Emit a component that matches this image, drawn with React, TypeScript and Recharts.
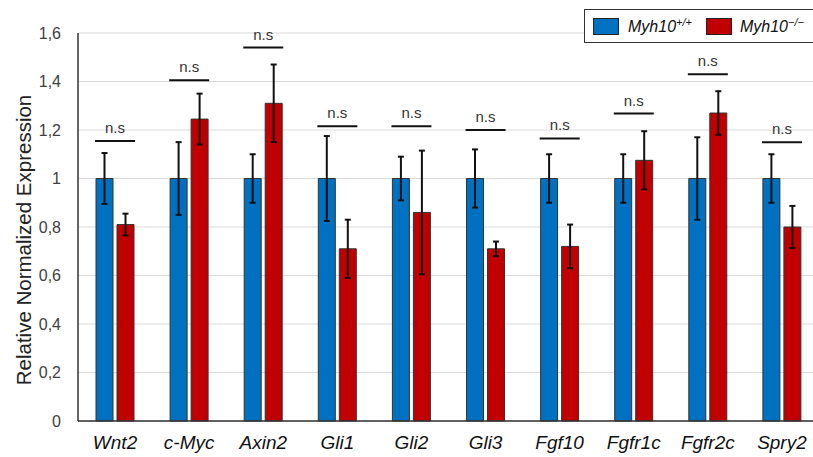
import React from "react";
import {
  ComposedChart,
  Bar,
  Line,
  XAxis,
  YAxis,
  CartesianGrid,
  ErrorBar,
} from "recharts";

const genes = ["Wnt2", "c-Myc", "Axin2", "Gli1", "Gli2", "Gli3", "Fgf10", "Fgfr1c", "Fgfr2c", "Spry2"];
const wildType = [1, 1, 1, 1, 1, 1, 1, 1, 1, 1];
const wildTypeErr = [0.105, 0.15, 0.1, 0.175, 0.09, 0.12, 0.1, 0.1, 0.17, 0.1];
const knockout = [0.81, 1.245, 1.31, 0.71, 0.86, 0.71, 0.72, 1.075, 1.27, 0.8];
const knockoutErr = [0.045, 0.105, 0.16, 0.12, 0.255, 0.03, 0.09, 0.12, 0.09, 0.087];
const sigLevel = [1.155, 1.405, 1.54, 1.215, 1.215, 1.2, 1.165, 1.268, 1.43, 1.149];
const yTicks = [0, 0.2, 0.4, 0.6, 0.8, 1, 1.2, 1.4, 1.6];

const data = genes.map((g, i) => ({
  gene: g,
  wt: wildType[i],
  wtErr: wildTypeErr[i],
  ko: knockout[i],
  koErr: knockoutErr[i],
  sig: sigLevel[i],
}));

const FONT = "'Liberation Sans', Arial, sans-serif";

const SigMark = (props: any) => {
  const { cx, cy, index } = props;
  if (cx == null || cy == null) return null;
  return (
    <g key={`sig-${index}`}>
      <line x1={cx - 20} x2={cx + 20} y1={cy} y2={cy} stroke="#111" strokeWidth={2} />
      <text x={cx} y={cy - 8} textAnchor="middle" fontSize={15} fill="#333" fontFamily={FONT}>
        n.s
      </text>
    </g>
  );
};

const YLabel = (props: any) => {
  const { viewBox } = props;
  const x = viewBox.x + 23;
  const y = viewBox.y + viewBox.height / 2 + 13;
  return (
    <text
      x={x}
      y={y}
      transform={`rotate(-90 ${x} ${y})`}
      textAnchor="middle"
      dominantBaseline="central"
      fontSize={20.5}
      fill="#222"
      fontFamily={FONT}
    >
      Relative Normalized Expression
    </text>
  );
};

const swatch = (color: string, ml: number, mr: number) => (
  <span
    style={{
      display: "inline-block",
      width: 26,
      height: 17,
      background: color,
      border: "1px solid #222",
      boxSizing: "border-box",
      marginLeft: ml,
      marginRight: mr,
    }}
  />
);

const LegendBox = () => (
  <div
    style={{
      position: "absolute",
      left: 584,
      top: 9,
      border: "1.5px solid #333",
      background: "#fff",
      height: 34,
      width: 240,
      display: "flex",
      alignItems: "center",
      fontFamily: FONT,
      fontStyle: "italic",
      fontSize: 16,
      color: "#111",
      boxSizing: "border-box",
    }}
  >
    {swatch("#0070C0", 8, 9)}
    <span>
      Myh10<sup style={{ fontSize: 11 }}>+/+</sup>
    </span>
    {swatch("#C00000", 14, 8)}
    <span>
      Myh10<sup style={{ fontSize: 11 }}>−/−</sup>
    </span>
  </div>
);

export default function App() {
  return (
    <div style={{ position: "absolute", left: 0, top: 0, width: 813, height: 457, overflow: "hidden", background: "#fff" }}>
      <ComposedChart
        width={813}
        height={457}
        data={data}
        margin={{ top: 33, right: -6, bottom: 0, left: 0 }}
        barGap={4}
      >
        <CartesianGrid vertical={false} stroke="#d9d9d9" />
        <XAxis
          dataKey="gene"
          height={36}
          tickLine={false}
          axisLine={{ stroke: "#333", strokeWidth: 1.5 }}
          tick={{ fontSize: 19, fontStyle: "italic", fill: "#111", fontFamily: FONT }}
          tickMargin={9}
          interval={0}
        />
        <YAxis
          width={78}
          domain={[0, 1.6]}
          ticks={yTicks}
          tickLine={false}
          axisLine={{ stroke: "#333", strokeWidth: 1.5 }}
          tick={{ fontSize: 16, fill: "#404040", fontFamily: FONT }}
          tickMargin={11}
          tickFormatter={(v: number) => String(v).replace(".", ",")}
          label={{ content: YLabel }}
        />
        <Bar dataKey="wt" name="Myh10+/+" fill="#0070C0" stroke="#333" strokeWidth={1} barSize={17} isAnimationActive={false}>
          <ErrorBar dataKey="wtErr" width={3} stroke="#111" strokeWidth={2} />
        </Bar>
        <Bar dataKey="ko" name="Myh10-/-" fill="#C00000" stroke="#333" strokeWidth={1} barSize={17} isAnimationActive={false}>
          <ErrorBar dataKey="koErr" width={3} stroke="#111" strokeWidth={2} />
        </Bar>
        <Line
          dataKey="sig"
          stroke="none"
          dot={SigMark}
          activeDot={false}
          legendType="none"
          isAnimationActive={false}
        />
      </ComposedChart>
      <LegendBox />
    </div>
  );
}
